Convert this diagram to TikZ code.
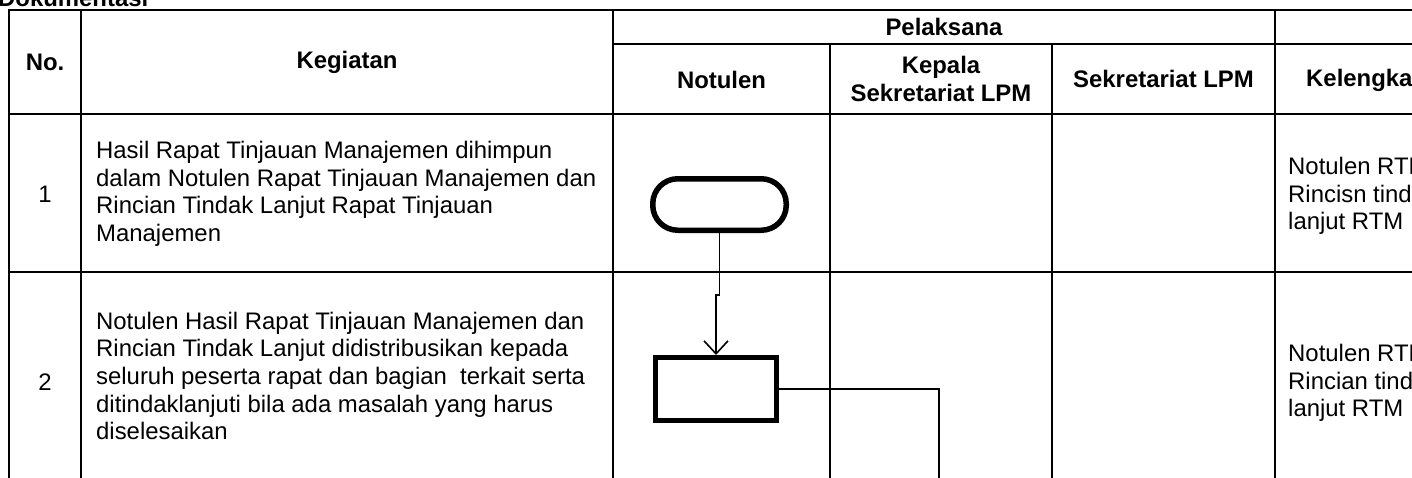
\documentclass[tikz,border=0pt]{standalone}
\usepackage{fontspec}
\setmainfont{Liberation Sans}
\usetikzlibrary{arrows.meta}
\begin{document}
\begin{tikzpicture}[x=1pt,y=-1pt,
  grid/.style={line width=2.2pt, line cap=rect},
  hdr/.style={font=\fontsize{23.9}{27.5}\selectfont\bfseries, align=center, inner sep=0pt},
  body/.style={font=\fontsize{23.9}{27.6}\selectfont, align=left, inner sep=0pt, anchor=west},
  num/.style={font=\fontsize{23.9}{27.6}\selectfont, inner sep=0pt},
  term/.style={draw, line width=5.5pt, rounded corners=25pt, minimum width=133.5pt, minimum height=51.5pt, inner sep=0pt},
  proc/.style={draw, line width=5pt, minimum width=121pt, minimum height=63pt, inner sep=0pt},
  conn/.style={line width=1.6pt}
  ]
\useasboundingbox (0,0) rectangle (1412,477);
\clip (0,0) rectangle (1412,477);
\fill[white] (0,0) rectangle (1412,477);

% title (cut off at top)
\node[hdr, anchor=base west] (doc) at (-2,6) {Dokumentasi};

% table grid
\draw[grid] (9,10) -- (1420,10);
\draw[grid] (613,44) -- (1420,44);
\draw[grid] (9,114) -- (1420,114);
\draw[grid] (9,272) -- (1420,272);
\draw[grid] (9,10) -- (9,490);
\draw[grid] (81,10) -- (81,490);
\draw[grid] (613,10) -- (613,490);
\draw[grid] (830,44) -- (830,490);
\draw[grid] (1052,44) -- (1052,490);
\draw[grid] (1275,10) -- (1275,490);

% headers
\node[hdr] (hno) at (45,62) {No.};
\node[hdr] (hkeg) at (347,62) {Kegiatan};
\node[hdr] (hpel) at (944,27) {Pelaksana};
\node[hdr] (hnot) at (721.5,80) {Notulen};
\node[hdr] (hkep) at (941,79) {Kepala\\Sekretariat LPM};
\node[hdr] (hsek) at (1163.5,79) {Sekretariat LPM};
\node[hdr, anchor=west] (hkel) at (1306,80) {Kelengkapan};

% row 1
\node[num] (n1) at (45,194) {1};
\node[body] (k1) at (96,194) {Hasil Rapat Tinjauan Manajemen dihimpun\\dalam Notulen Rapat Tinjauan Manajemen dan\\Rincian Tindak Lanjut Rapat Tinjauan\\Manajemen};
\node[body] (kl1) at (1288,196) {Notulen RTM\\Rincisn tindak\\lanjut RTM};

% row 2
\node[num] (n2) at (45,382) {2};
\node[body] (k2) at (96,376) {Notulen Hasil Rapat Tinjauan Manajemen dan\\Rincian Tindak Lanjut didistribusikan kepada\\seluruh peserta rapat dan bagian\ \ terkait serta\\ditindaklanjuti bila ada masalah yang harus\\diselesaikan};
\node[body] (kl2) at (1288,383) {Notulen RTM\\Rincian tindak\\lanjut RTM};

% flow shapes
\node[term] (term) at (719.5,204.5) {};
\node[proc] (box) at (716,389) {};
\coordinate (jog) at (719.5,295);
\coordinate (down) at (939,495);

\draw[conn, -{Straight Barb[length=13pt,width=24pt]}]
  (term.south) -- (jog) -- (jog -| box.north) -- (box.north);
\draw[conn] (box.east) -| (down);
\end{tikzpicture}
\end{document}
